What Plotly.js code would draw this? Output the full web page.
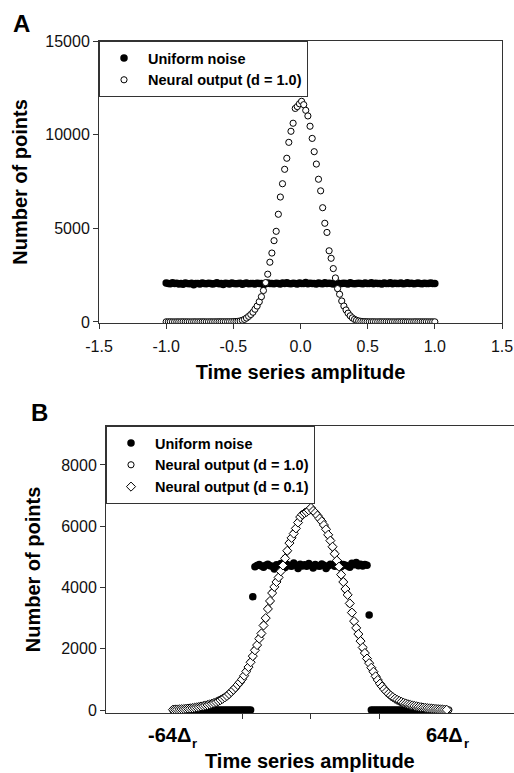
<!DOCTYPE html>
<html><head><meta charset="utf-8">
<script src="https://cdn.plot.ly/plotly-3.0.1.min.js"></script>
<style>html,body{margin:0;padding:0;background:#fff;overflow:hidden}#chart{width:514px;height:773px}</style>
</head><body><div id="chart"></div>
<script>
// ---------- Panel A data (128 amplitude bins) ----------
const ampA = [
-1.000,-0.984,-0.969,-0.953,-0.937,-0.921,-0.906,-0.890,-0.874,-0.858,-0.843,-0.827,-0.811,-0.795,-0.780,-0.764,
-0.748,-0.732,-0.717,-0.701,-0.685,-0.669,-0.654,-0.638,-0.622,-0.606,-0.591,-0.575,-0.559,-0.543,-0.528,-0.512,
-0.496,-0.480,-0.465,-0.449,-0.433,-0.417,-0.402,-0.386,-0.370,-0.354,-0.339,-0.323,-0.307,-0.291,-0.276,-0.260,
-0.244,-0.228,-0.213,-0.197,-0.181,-0.165,-0.150,-0.134,-0.118,-0.102,-0.087,-0.071,-0.055,-0.039,-0.024,-0.008,
0.008,0.024,0.039,0.055,0.071,0.087,0.102,0.118,0.134,0.150,0.165,0.181,0.197,0.213,0.228,0.244,
0.260,0.276,0.291,0.307,0.323,0.339,0.354,0.370,0.386,0.402,0.417,0.433,0.449,0.465,0.480,0.496,
0.512,0.528,0.543,0.559,0.575,0.591,0.606,0.622,0.638,0.654,0.669,0.685,0.701,0.717,0.732,0.748,
0.764,0.780,0.795,0.811,0.827,0.843,0.858,0.874,0.890,0.906,0.921,0.937,0.953,0.969,0.984,1.000];

const uniformA = [
2080,2060,2040,2090,2050,2070,2030,2060,2010,2080,2050,2040,2070,1990,2050,2060,
2030,2080,2050,2040,2070,2060,2030,2050,2090,2040,2060,2000,2070,2050,2030,2080,
2060,2040,2050,2070,2020,2060,2080,2040,2050,2060,2030,2070,2050,2060,1990,2040,
2080,2060,2050,2040,2070,2060,2030,2080,2050,2100,2060,2040,2070,2050,2030,2080,
2060,2050,2110,2040,2070,2060,2050,2030,2080,2060,2040,2090,2050,2070,2060,2030,
2050,2080,2040,2060,2070,2050,2030,2090,2060,2040,2050,2070,2060,2040,2080,2050,
2060,2100,2040,2070,2050,2060,2030,2080,2060,2050,2090,2040,2070,2060,2050,2080,
2040,2060,2100,2050,2070,2040,2060,2080,2050,2040,2070,2060,2050,2080,2060,2050];

const neuralA = [
8,6,9,7,5,8,6,7,9,6,8,7,5,9,7,6,
8,7,9,6,8,10,7,9,8,11,9,12,10,13,14,16,
20,25,35,55,90,140,210,300,400,520,680,850,1080,1350,1680,2100,
2550,3190,3680,4340,4840,5750,6670,7380,8150,8740,9590,10180,10610,11400,11500,11650,
11780,11600,11300,11000,10450,9800,9090,8430,7620,7000,6100,5270,4780,3800,3400,2850,
2350,1780,1480,1120,850,640,470,330,220,140,90,55,35,22,15,12,
10,9,11,8,7,9,6,8,7,9,6,8,7,5,8,6,
9,7,6,8,5,7,9,6,8,7,6,9,7,8,6,7];

// ---------- Panel B data (bins -64 .. 63, in units of Δr) ----------
const binsB = [
-64,-63,-62,-61,-60,-59,-58,-57,-56,-55,-54,-53,-52,-51,-50,-49,
-48,-47,-46,-45,-44,-43,-42,-41,-40,-39,-38,-37,-36,-35,-34,-33,
-32,-31,-30,-29,-28,-27,-26,-25,-24,-23,-22,-21,-20,-19,-18,-17,
-16,-15,-14,-13,-12,-11,-10,-9,-8,-7,-6,-5,-4,-3,-2,-1,
0,1,2,3,4,5,6,7,8,9,10,11,12,13,14,15,
16,17,18,19,20,21,22,23,24,25,26,27,28,29,30,31,
32,33,34,35,36,37,38,39,40,41,42,43,44,45,46,47,
48,49,50,51,52,53,54,55,56,57,58,59,60,61,62,63];
const binsB_d10 = binsB.concat([64]);

const uniformB = [
0,0,0,0,0,0,0,0,0,0,0,0,0,0,0,0,
0,0,0,0,0,0,0,0,0,0,0,0,0,0,0,0,
0,0,0,0,0,3700,
4680,4720,4750,4700,4660,4730,4760,4710,4690,4600,
4740,4720,4780,4700,4650,4750,4710,4690,4800,4730,
4620,4760,4700,4740,4690,4780,4720,4640,4750,4710,
4690,4770,4730,4620,4700,4760,4740,4690,4720,4800,
4680,4750,4730,4700,4660,4790,4740,4820,4710,4760,
4700,4750,4730,
3100,
0,0,0,0,0,0,0,0,0,0,0,0,0,0,0,0,0,0,
0,0,0,0,0,0,0,0,0,0,0,0,0,0,0,0,0,0];

const neuralB_d10 = [
12,14,20,24,26,34,38,50,58,62,78,85,104,112,134,145,
170,182,210,226,262,286,330,360,415,455,525,585,668,728,828,898,
1010,1110,1270,1390,1570,1750,1960,2110,2340,2490,2770,2990,3310,3550,3830,4010,
4190,4320,4540,4710,4960,5190,5460,5610,5770,5920,6130,6290,6390,6420,6480,6510,
6590,6510,6430,6360,6240,6170,6030,5910,5710,5540,5320,5110,4870,4690,4410,4190,
3940,3770,3470,3190,2890,2690,2470,2260,2030,1870,1670,1540,1370,1260,1090,990,
850,780,670,610,520,480,410,380,320,300,260,240,205,190,165,152,
130,120,100,94,78,72,60,55,44,41,33,29,20,18,11,9,5];

const neuralB_d01 = [
10,15,18,22,28,32,40,48,55,65,75,88,100,115,130,148,
165,185,205,230,258,290,325,365,410,460,520,590,660,735,820,905,
1000,1120,1260,1400,1560,1760,1950,2120,2330,2500,2760,3000,3300,3560,3820,4020,
4180,4330,4530,4720,4950,5200,5450,5620,5760,5930,6120,6300,6380,6430,6470,6520,
6600,6500,6440,6350,6250,6160,6040,5900,5720,5530,5330,5100,4880,4680,4420,4180,
3950,3760,3480,3180,2900,2680,2480,2250,2040,1860,1680,1530,1380,1250,1100,980,
860,770,680,600,530,470,420,370,330,295,265,235,210,188,168,150,
133,118,104,92,80,70,62,54,46,40,34,28,22,17,12,8];

const namesA = ['Uniform noise', 'Neural output (d = 1.0)'];
const namesB = ['Uniform noise', 'Neural output (d = 1.0)', 'Neural output (d = 0.1)'];
const ticksA_x = [-1.5,-1.0,-0.5,0.0,0.5,1.0,1.5];
const ticksA_xText = ['-1.5','-1.0','-0.5','0.0','0.5','1.0','1.5'];
const ticksA_y = [0,5000,10000,15000];
const ticksB_y = [0,2000,4000,6000,8000];
const ticksB_x = [-32,0,32];
const labelsB_x = [-64, 64];
const labelsB_xMain = ['-64Δ', '64Δ'];
const labelsB_xSub = 'r';
const titleX = 'Time series amplitude';
const titleY = 'Number of points';

// ---------- layout helpers ----------
const W = 514, H = 773;
const px = v => v / W;
const py = v => 1 - v / H;
const FONT = 'Liberation Sans, Arial, Helvetica, sans-serif';
const LINE = '#333';

const filled = {symbol:'circle', size:7.5, color:'#000', line:{width:0}};
const openC = {symbol:'circle', size:6.2, color:'#fff', line:{color:'#000', width:1}};
const openD = {symbol:'diamond', size:7, color:'#fff', line:{color:'#000', width:1}};

const traces = [
  {x: ampA, y: uniformA, name: namesA[0], type:'scatter', mode:'markers', marker: filled, xaxis:'x', yaxis:'y', legend:'legend'},
  {x: ampA, y: neuralA, name: namesA[1], type:'scatter', mode:'markers', marker: openC, xaxis:'x', yaxis:'y', legend:'legend'},
  {x: binsB, y: uniformB, name: namesB[0], type:'scatter', mode:'markers', marker: filled, xaxis:'x2', yaxis:'y2', legend:'legend2'},
  {x: binsB_d10, y: neuralB_d10, name: namesB[1], type:'scatter', mode:'markers', marker: openC, xaxis:'x2', yaxis:'y2', legend:'legend2'},
  {x: binsB, y: neuralB_d01, name: namesB[2], type:'scatter', mode:'markers', marker: openD, xaxis:'x2', yaxis:'y2', legend:'legend2'}
];

const titleFont = {family:FONT, size:20, color:'#000', weight:'bold'};
const axisBase = {
  showline:true, linecolor:LINE, linewidth:1, showgrid:false, zeroline:false,
  ticks:'outside', ticklen:5, tickwidth:1, tickcolor:LINE,
  tickfont:{family:FONT, size:16, color:'#111'}, fixedrange:true, automargin:false
};

const legendBase = {
  xanchor:'left', yanchor:'top', bgcolor:'#fff', bordercolor:LINE, borderwidth:1,
  font:{family:FONT, size:14.5, color:'#000', weight:'bold'}, itemwidth:38, tracegroupgap:0,
  traceorder:'normal'
};

const annFont = (s) => ({family:FONT, size:s, color:'#000', weight:'bold'});

const layout = {
  width: W, height: H, margin:{l:0, r:0, t:0, b:0},
  paper_bgcolor:'#fff', plot_bgcolor:'#fff', showlegend:true, hovermode:false,
  xaxis: Object.assign({}, axisBase, {domain:[px(99), px(502)], range:[-1.5,1.5], anchor:'y', mirror:true,
    tickmode:'array', tickvals:ticksA_x, ticktext:ticksA_xText, ticklabelstandoff:4,
    title:{text:titleX, font:titleFont, standoff:10}}),
  yaxis: Object.assign({}, axisBase, {domain:[py(323), py(41)], range:[-55,15000], anchor:'x', mirror:true,
    tickmode:'array', tickvals:ticksA_y, ticktext:ticksA_y.map(String),
    title:{text:titleY, font:titleFont, standoff:12}}),
  xaxis2: Object.assign({}, axisBase, {domain:[px(106), 1], range:[-95.1,94.2], anchor:'y2', mirror:true,
    tickmode:'array', tickvals:ticksB_x, showticklabels:false}),
  yaxis2: Object.assign({}, axisBase, {domain:[py(713), py(426)], range:[-98,9273], anchor:'x2', mirror:false,
    tickmode:'array', tickvals:ticksB_y, ticktext:ticksB_y.map(String),
    title:{text:titleY, font:titleFont, standoff:15}}),
  legend: Object.assign({}, legendBase, {x:px(99), y:py(41)}),
  legend2: Object.assign({}, legendBase, {x:px(106), y:py(426)}),
  annotations: [
    {text:'A', xref:'paper', yref:'paper', x:px(21.5), y:py(24), showarrow:false, font:annFont(24), xanchor:'center', yanchor:'middle'},
    {text:'B', xref:'paper', yref:'paper', x:px(39), y:py(412), showarrow:false, font:annFont(24), xanchor:'center', yanchor:'middle'},
    {text:titleX, xref:'paper', yref:'paper', x:px(310), y:py(760.5), showarrow:false, font:annFont(20), xanchor:'center', yanchor:'middle'},
    {text:labelsB_xMain[0], xref:'x2', yref:'paper', x:labelsB_x[0], xshift:-4, y:py(735), showarrow:false, font:annFont(20), xanchor:'center', yanchor:'middle'},
    {text:labelsB_xSub, xref:'x2', yref:'paper', x:labelsB_x[0], xshift:21.5, y:py(743), showarrow:false, font:annFont(13), xanchor:'center', yanchor:'middle'},
    {text:labelsB_xMain[1], xref:'x2', yref:'paper', x:labelsB_x[1], xshift:-4.5, y:py(735), showarrow:false, font:annFont(20), xanchor:'center', yanchor:'middle'},
    {text:labelsB_xSub, xref:'x2', yref:'paper', x:labelsB_x[1], xshift:17.5, y:py(743), showarrow:false, font:annFont(13), xanchor:'center', yanchor:'middle'}
  ]
};

Plotly.newPlot('chart', traces, layout, {staticPlot:true, displayModeBar:false}).then(() => {
  document.querySelectorAll('#js-plotly-tester').forEach(el => el.remove());
});
</script>
</body></html>
